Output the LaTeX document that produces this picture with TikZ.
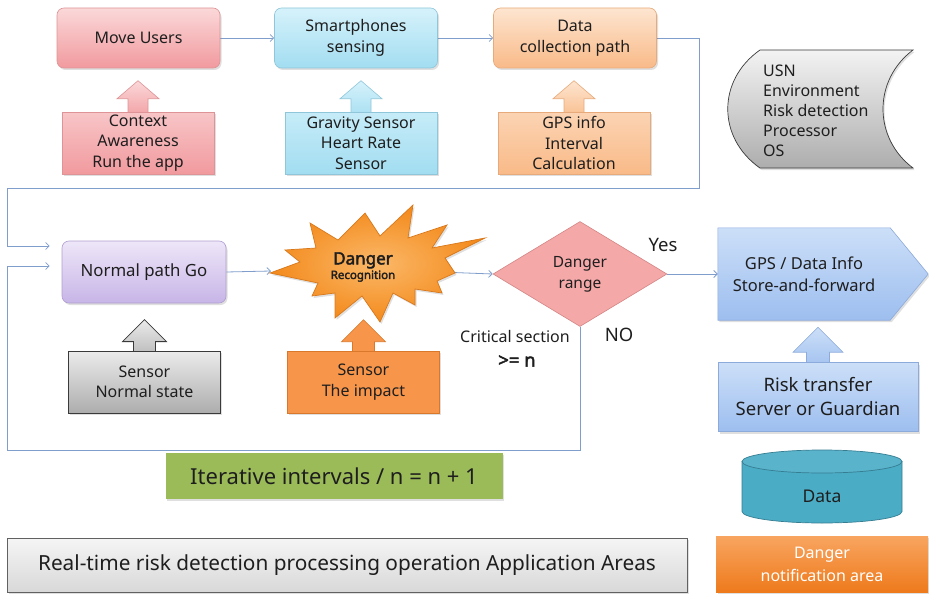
\documentclass[tikz,border=0pt]{standalone}
\usepackage{fontspec}
\setmainfont{Noto Sans}[AutoFakeBold=2.5]
\usetikzlibrary{shapes.geometric,arrows.meta,calc,shadows,backgrounds}

% palette
\definecolor{linec}{RGB}{128,158,204}
\definecolor{pinkT}{HTML}{FBD8D9}
\definecolor{pinkB}{HTML}{F19A9E}
\definecolor{pinkD}{HTML}{DE9496}
\definecolor{blueT}{HTML}{D6F2FB}
\definecolor{blueB}{HTML}{A2DDF1}
\definecolor{blueD}{HTML}{8FC6D9}
\definecolor{orgT}{HTML}{FDE5D0}
\definecolor{orgB}{HTML}{F9BA88}
\definecolor{orgD}{HTML}{E7AA7A}
\definecolor{lavT}{HTML}{EEE6F8}
\definecolor{lavB}{HTML}{C7B5E7}
\definecolor{lavD}{HTML}{AF9FD0}
\definecolor{grayT}{HTML}{EBEBEB}
\definecolor{grayB}{HTML}{ADADAD}
\definecolor{grayD}{HTML}{3A3A3A}
\definecolor{impact}{HTML}{F7964A}
\definecolor{impactD}{HTML}{D9772A}
\definecolor{diam}{HTML}{F5A8A8}
\definecolor{diamD}{HTML}{D48585}
\definecolor{skyT}{HTML}{CCDFF8}
\definecolor{skyB}{HTML}{9DBEEF}
\definecolor{skyD}{HTML}{8CAADA}
\definecolor{teal}{HTML}{4BACC6}
\definecolor{tealD}{HTML}{357D91}
\definecolor{leaf}{HTML}{9BBB59}
\definecolor{starI}{HTML}{FBB868}
\definecolor{starO}{HTML}{F38A1C}
\definecolor{starD}{HTML}{D9781A}
\definecolor{alertT}{HTML}{F8A560}
\definecolor{alertB}{HTML}{EE7A1C}
\definecolor{ink}{HTML}{1E1E1E}

% upward block arrow sitting on top of a node:
% style, node, length, head length, head half width, shaft half width
\newcommand\upblock[6]{%
  \path[#1] ($(#2.north)+(-#6,1)$) -- ($(#2.north)+(-#6,-#3+#4)$) -- ($(#2.north)+(-#5,-#3+#4)$)
    -- ($(#2.north)+(0,-#3)$) -- ($(#2.north)+(#5,-#3+#4)$) -- ($(#2.north)+(#6,-#3+#4)$)
    -- ($(#2.north)+(#6,1)$) -- cycle;}

\begin{document}
\begin{tikzpicture}[x=1pt,y=-1pt,
  every node/.style={text=ink, inner sep=0pt},
  conn/.style={draw=linec, line width=0.8pt, -{Straight Barb[length=3.5pt,width=7pt]}},
  soft/.style={drop shadow={opacity=0.25, shadow xshift=1.5pt, shadow yshift=-2pt}},
  topbox/.style={rounded corners=7pt, minimum width=163pt, minimum height=60pt,
    align=center, font=\fontsize{16}{21}\selectfont, line width=0.6pt, soft},
  subbox/.style={minimum width=152pt, minimum height=62pt, align=center,
    font=\fontsize{16}{20.5}\selectfont, line width=0.6pt, soft},
  blk/.style={line width=0.6pt}
]
\useasboundingbox (0,0) rectangle (929,594);

% ---------- top row ----------
\node[topbox, top color=pinkT, bottom color=pinkB, draw=pinkD] (mu) at (138.5,38) {Move Users};
\node[topbox, top color=blueT, bottom color=blueB, draw=blueD] (sp) at (356,38) {Smartphones\\sensing};
\node[topbox, top color=orgT, bottom color=orgB, draw=orgD] (dc) at (575,38) {Data\\collection path};

\node[subbox, top color=pinkT!70!pinkB, bottom color=pinkB, draw=pinkD] (ca) at (138,143) {Context\\Awareness\\Run the app};
\node[subbox, top color=blueT!70!blueB, bottom color=blueB, draw=blueD] (gs) at (361,143) {Gravity Sensor\\Heart Rate\\Sensor};
\node[subbox, top color=orgT!60!orgB, bottom color=orgB, draw=orgD] (gi) at (574,143) {GPS info\\Interval\\Calculation};

% stored-data scroll
\path[top color=grayT!60!white, bottom color=grayB, draw=grayD, line width=0.7pt, soft]
  (760,50) -- (913,50) .. controls (873,80) and (873,138) .. (913,168)
  -- (760,168) .. controls (717,138) and (717,80) .. (760,50) -- cycle;
\node[anchor=west, align=left, font=\fontsize{16}{20}\selectfont] (usn) at (763,111)
  {USN\\Environment\\Risk detection\\Processor\\OS};

% ---------- middle row ----------
\node[topbox, top color=lavT, bottom color=lavB, draw=lavD, minimum width=164pt, minimum height=62pt,
  font=\fontsize{16.8}{21}\selectfont] (np) at (144,272) {Normal path Go};

\node[subbox, top color=grayT, bottom color=grayB, draw=grayD, line width=0.8pt] (sn) at (144.5,382) {Sensor\\Normal state};
\node[subbox, fill=impact, draw=impactD] (si) at (363.5,382) {Sensor\\The impact};

% starburst
\path[inner color=starI, outer color=starO, draw=starD, line width=0.7pt, soft]
  (310,223) -- (338,240) -- (365,213) -- (380,236) -- (413,205) -- (408,238)
  -- (447,225) -- (432,248) -- (485,238) -- (445,258) -- (455,273) -- (437,281)
  -- (442,293) -- (415,289) -- (415,305) -- (393,293) -- (380,322) -- (362,296)
  -- (335,318) -- (335,293) -- (312,296) -- (318,283) -- (270,273) -- (300,262)
  -- (285,250) -- (316,248) -- cycle;
\coordinate (drin) at (271,271);
\coordinate (drout) at (440,272);
\node[align=center] (dr) at (363,267)
  {{\fontsize{17}{20}\selectfont\bfseries Danger}\\[1pt]{\fontsize{11.5}{13}\selectfont\bfseries Recognition}};

\node[diamond, aspect=1.66, minimum width=174pt, minimum height=105pt, fill=diam, draw=diamD,
  line width=0.6pt, align=center, font=\fontsize{15.5}{21}\selectfont] (dg) at (580,274) {Danger\\range};

\node[font=\fontsize{18.5}{20}\selectfont] (yes) at (663,245) {Yes};
\node[font=\fontsize{18.5}{20}\selectfont] (no) at (619,335) {NO};
\node[font=\fontsize{16}{18}\selectfont] (crit) at (515,336) {Critical section};
\node[font=\fontsize{18.5}{20}\selectfont\bfseries] (gen) at (517,361) {>= n};

% store-and-forward pointer box
\node[minimum width=172pt, minimum height=92pt, align=center,
  font=\fontsize{16.5}{22}\selectfont] (gps) at (804,274) {GPS / Data Info\\Store-and-forward};
\begin{scope}[on background layer]
\path[top color=skyT, bottom color=skyB, draw=skyD, line width=0.6pt, soft]
  (gps.north west) -- (gps.north east) -- ($(gps.east)+(38,0)$) -- (gps.south east)
  -- (gps.south west) -- cycle;
\end{scope}

\node[subbox, minimum width=200pt, minimum height=69pt, top color=skyT, bottom color=skyB,
  draw=skyD, font=\fontsize{18.5}{24}\selectfont] (rt) at (818,397) {Risk transfer\\Server or Guardian};

% data store cylinder
\path[fill=teal, draw=tealD, line width=0.7pt]
  (742,461.5) -- (742,511.5) arc[start angle=180, end angle=360, x radius=80pt, y radius=11.5pt]
  -- (902,461.5) -- cycle;
\path[fill=teal!92!white, draw=tealD, line width=0.7pt] (822,461.5) ellipse [x radius=80pt, y radius=11.5pt];
\node[font=\fontsize{17.5}{20}\selectfont] (data) at (822,496) {Data};

% ---------- bottom ----------
\node[fill=leaf, minimum width=337pt, minimum height=46pt, soft,
  font=\fontsize{22}{24}\selectfont] (it) at (334,476) {Iterative intervals / n = n + 1};
\node[top color=grayT!50!white, bottom color=grayT!70!grayB, draw=grayD!80, line width=0.8pt,
  minimum width=680pt, minimum height=54pt, soft, font=\fontsize{20.8}{24}\selectfont] (rtm) at (347,565)
  {Real-time risk detection processing operation Application Areas};
\node[top color=alertT, bottom color=alertB, minimum width=212pt, minimum height=56pt, align=center,
  text=white, font=\fontsize{16}{23}\selectfont, soft] (dn) at (822,564) {Danger\\notification area};

% ---------- block arrows and connectors ----------
\begin{scope}[on background layer]
  \upblock{blk, top color=pinkT, bottom color=pinkB!80!pinkT, draw=pinkD}{ca}{31}{18}{21}{10}
  \upblock{blk, top color=blueT, bottom color=blueB!80!blueT, draw=blueD}{gs}{31}{18}{21}{10}
  \upblock{blk, top color=orgT, bottom color=orgB!80!orgT, draw=orgD}{gi}{31}{18}{21}{10}
  \upblock{blk, top color=grayT, bottom color=grayB!70!grayT, draw=grayD, line width=0.8pt}{sn}{31}{22}{22}{11}
  \upblock{blk, fill=impact, draw=impactD}{si}{31}{22}{22}{11}
  \upblock{blk, top color=skyT, bottom color=skyB!80!skyT, draw=skyD}{rt}{35}{25}{25}{11.5}

  \draw[conn] (mu) -- (sp);
  \draw[conn] (sp) -- (dc);
  \draw[conn] (dc.east) -| (699,188) -| (7,246) -- ($(np.west)+(-12,-26)$);
  \draw[conn] (dg.south) -- (dg.south |- 0,450) -| (7,266) -- ($(np.west)+(-12,-6)$);
  \draw[conn] (np.east) -- (drin);
  \draw[conn] (drout) -- (dg.west);
  \draw[conn] (dg.east) -- (gps.west);
\end{scope}
\end{tikzpicture}
\end{document}
